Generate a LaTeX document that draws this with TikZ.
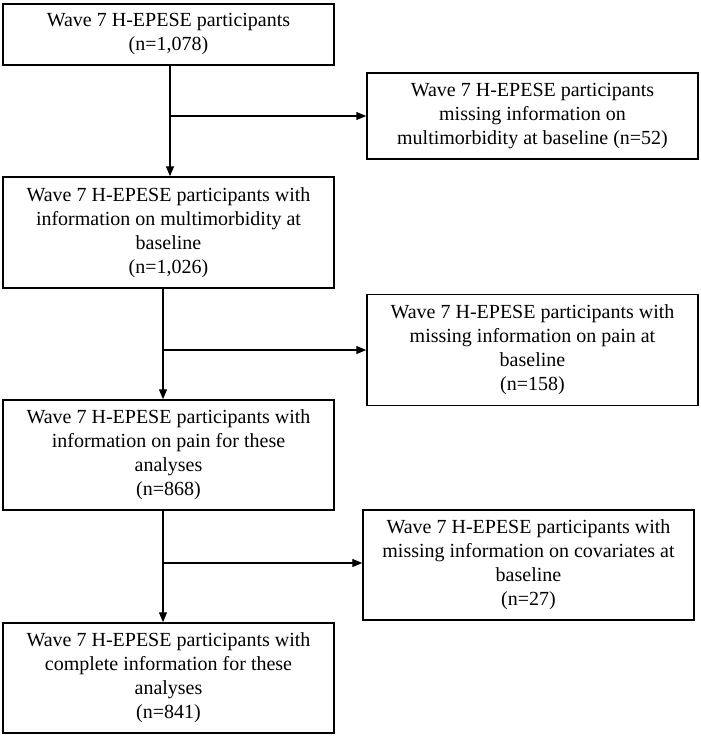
\documentclass[tikz,border=0pt]{standalone}
\usepackage{fontspec}
\setmainfont{Liberation Serif}
\usetikzlibrary{arrows.meta}
\begin{document}
\begin{tikzpicture}[x=1pt,y=-1pt,
  box/.style={draw, line width=1.5pt, rectangle, minimum width=331pt, inner sep=0pt, align=center,
    font=\fontsize{20}{24}\selectfont},
  conn/.style={line width=1.3pt},
  arr/.style={conn, -{Triangle[length=10pt,width=8pt]}}]
\useasboundingbox (0,0) rectangle (701,740);
\node[box, minimum height=61pt]  (b1) at (168.5,34.5) {Wave 7 H-EPESE participants\\(n=1,078)};
\node[box, minimum height=86pt]  (b2) at (532.5,116) {Wave 7 H-EPESE participants\\missing information on\\multimorbidity at baseline (n=52)};
\node[box, minimum height=111pt] (b3) at (168.5,232.5) {Wave 7 H-EPESE participants with\\information on multimorbidity at\\baseline\\(n=1,026)};
\node[box, minimum height=111pt] (b4) at (532.5,350) {Wave 7 H-EPESE participants with\\missing information on pain at\\baseline\\(n=158)};
\node[box, minimum height=110pt] (b5) at (168.5,455) {Wave 7 H-EPESE participants with\\information on pain for these\\analyses\\(n=868)};
\node[box, minimum height=110pt] (b6) at (528.5,565) {Wave 7 H-EPESE participants with\\missing information on covariates at\\baseline\\(n=27)};
\node[box, minimum height=110pt] (b7) at (168.5,678) {Wave 7 H-EPESE participants with\\complete information for these\\analyses\\(n=841)};
\coordinate (j1) at (170,116);
\coordinate (j2) at (163,350);
\coordinate (j3) at (163,563);
\draw[arr] (b1.south -| j1) -- (b3.north -| j1);
\draw[arr] (j1) -- (j1 -| b2.west);
\draw[arr] (b3.south -| j2) -- (b5.north -| j2);
\draw[arr] (j2) -- (j2 -| b4.west);
\draw[arr] (b5.south -| j3) -- (b7.north -| j3);
\draw[arr] (j3) -- (j3 -| b6.west);
\end{tikzpicture}
\end{document}
